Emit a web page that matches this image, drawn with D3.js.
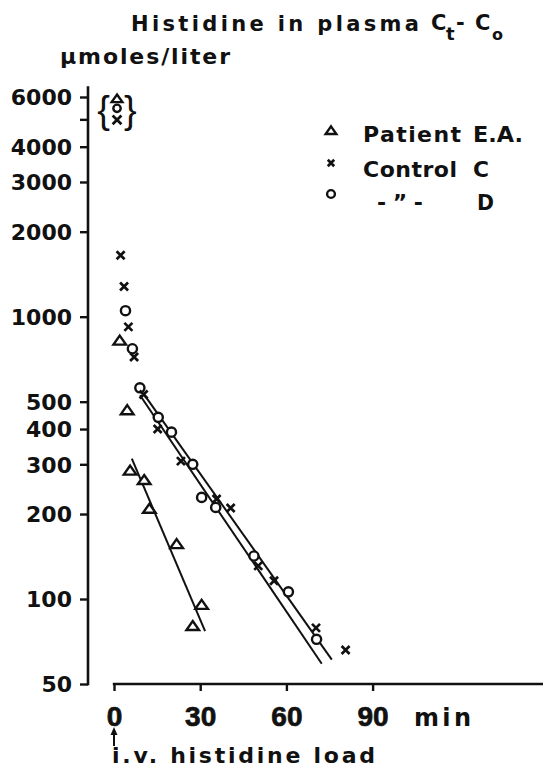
<!DOCTYPE html>
<html>
<head>
<meta charset="utf-8">
<script src="https://cdn.jsdelivr.net/npm/d3@7"></script>
<style>
  html, body { margin: 0; padding: 0; background: #fff; }
  svg { display: block; }
  text { font-family: "DejaVu Sans", sans-serif; font-weight: bold; fill: #111; }
</style>
</head>
<body>
<svg id="chart" width="543" height="768"></svg>
<script>
// ---- data ----
const yTickValues = [50, 100, 200, 300, 400, 500, 1000, 2000, 3000, 4000, 5000, 6000];
const yTickLabels = ["50", "100", "200", "300", "400", "500", "1000", "2000", "3000", "4000", "", "6000"];
const xTickValues = [0, 30, 60, 90];
const xTickLabels = ["0", "30", "60", "90"];

// Patient E.A. (triangles)
const patientT = [2, 4.6, 5.6, 10.5, 12.3, 21.8, 27.4, 30.5];
const patientV = [820, 465, 284, 263, 208, 156, 80, 95];
// Control C (crosses)
const controlCT = [2.3, 3.5, 5, 7, 10.3, 15.2, 23.3, 35.7, 40.6, 50.2, 55.7, 70.3, 80.6];
const controlCV = [1650, 1280, 920, 720, 530, 400, 308, 226, 210, 131, 116, 79, 66];
// Control D (circles)
const controlDT = [4, 6.4, 9, 15.4, 20, 27.4, 30.5, 35.4, 48.7, 60.7, 70.5];
const controlDV = [1050, 770, 560, 440, 390, 300, 229, 211, 142, 106, 72];

// bracketed off-scale initial values {triangle, circle, cross}
const bracketT = 0.7;
const bracketSeries = ["patient", "D", "C"];
const bracketV = [5900, 5470, 4980];

// fitted regression lines [t0, v0, t1, v1]
const fitPatient = [6.2, 314, 31.7, 77];
const fitC = [9.05, 527, 72.3, 59];
const fitD = [10.2, 535, 75.8, 61];

const legendNames = ["Patient", "Control", "- \u201D -"];
const legendCodes = ["E.A.", "C", "D"];
const legendSeries = ["patient", "C", "D"];

// ---- scales ----
const svg = d3.select("#chart");
const x = d3.scaleLinear().domain([0, 90]).range([114, 372.6]);
const y = d3.scaleLog().domain([50, 6000]).range([684, 97]);
const ink = "#111";

// ---- markers ----
function drawMarker(g, kind, cx, cy, s) {
  s = s || 1;
  if (kind === "patient") {
    const w = 6.3 * s, h = 9 * s;
    g.append("path")
      .attr("d", `M${cx},${cy - h * 0.6}L${cx + w},${cy + h * 0.4}L${cx - w},${cy + h * 0.4}Z`)
      .attr("fill", "#fff").attr("stroke", ink).attr("stroke-width", 2.4).attr("stroke-linejoin", "miter");
  } else if (kind === "D") {
    g.append("circle").attr("cx", cx).attr("cy", cy).attr("r", 4.6 * s)
      .attr("fill", "#fff").attr("stroke", ink).attr("stroke-width", 2.4);
  } else {
    const r = 4 * s;
    g.append("path")
      .attr("d", `M${cx - r},${cy - r}L${cx + r},${cy + r}M${cx + r},${cy - r}L${cx - r},${cy + r}`)
      .attr("stroke", ink).attr("stroke-width", 2.7).attr("fill", "none");
  }
}

// ---- y axis ----
const yAxis = d3.axisLeft(y).tickValues(yTickValues).tickSize(8).tickSizeOuter(0).tickFormat((d, i) => yTickLabels[i]);
const gy = svg.append("g").attr("transform", "translate(88,0)").call(yAxis);
gy.select(".domain").remove();
gy.selectAll(".tick line").attr("stroke", ink).attr("stroke-width", 2.4);
gy.selectAll(".tick text")
  .attr("x", -16).attr("dy", "0.36em")
  .style("font-size", "22px").style("font-family", "DejaVu Sans, sans-serif")
  .style("font-weight", "bold").attr("fill", ink);
svg.append("line").attr("x1", 88).attr("x2", 88).attr("y1", y(50) + 1.2).attr("y2", y(6550))
  .attr("stroke", ink).attr("stroke-width", 2.6);

// ---- x axis ----
const xAxis = d3.axisBottom(x).tickValues(xTickValues).tickSize(7).tickSizeOuter(0).tickFormat((d, i) => xTickLabels[i]);
const gx = svg.append("g").attr("transform", "translate(0,684)").call(xAxis);
gx.select(".domain").remove();
gx.selectAll(".tick line").attr("stroke", ink).attr("stroke-width", 2.4);
gx.selectAll(".tick text")
  .attr("y", 42).attr("dy", 0)
  .style("font-size", "28px").style("font-family", "Liberation Sans, Arial, sans-serif")
  .style("font-weight", "bold").attr("fill", ink).attr("stroke", ink).attr("stroke-width", 0.7);
svg.append("line").attr("x1", x(0) - 1.2).attr("x2", 543).attr("y1", 684).attr("y2", 684)
  .attr("stroke", ink).attr("stroke-width", 2.6);
svg.append("text").attr("x", 414).attr("y", 726).attr("textLength", 57).attr("lengthAdjust", "spacing")
  .style("font-size", "24px").text("min");

// arrow and load label
svg.append("line").attr("x1", x(0)).attr("x2", x(0)).attr("y1", 746).attr("y2", 733)
  .attr("stroke", ink).attr("stroke-width", 2);
svg.append("path").attr("d", `M${x(0)},727L${x(0) + 3.5},735L${x(0) - 3.5},735Z`).attr("fill", ink);
svg.append("text").attr("x", 112).attr("y", 763).attr("textLength", 263).attr("lengthAdjust", "spacing")
  .style("font-size", "22px").text("i.v. histidine load");

// ---- titles ----
svg.append("text").attr("x", 131).attr("y", 30.5).attr("textLength", 288).attr("lengthAdjust", "spacing")
  .style("font-size", "21px").text("Histidine in plasma");
svg.append("text").attr("x", 431).attr("y", 30).style("font-size", "21px").text("C");
svg.append("text").attr("x", 446).attr("y", 40).style("font-size", "18px").text("t");
svg.append("text").attr("x", 456).attr("y", 30).style("font-size", "21px").text("-");
svg.append("text").attr("x", 475).attr("y", 30).style("font-size", "21px").text("C");
svg.append("text").attr("x", 492).attr("y", 40).style("font-size", "16px").text("o");
svg.append("text").attr("x", 60).attr("y", 64).attr("textLength", 170).attr("lengthAdjust", "spacing")
  .style("font-size", "22px").text("\u03BCmoles/liter");

// ---- fitted lines ----
const lineGen = d3.line().x(d => x(d[0])).y(d => y(d[1]));
[fitPatient, fitC, fitD].forEach(f => {
  svg.append("path").attr("d", lineGen([[f[0], f[1]], [f[2], f[3]]]))
    .attr("stroke", ink).attr("stroke-width", 2).attr("fill", "none");
});

// ---- points ----
const gp = svg.append("g");
patientT.forEach((t, i) => drawMarker(gp, "patient", x(t), y(patientV[i])));
controlDT.forEach((t, i) => drawMarker(gp, "D", x(t), y(controlDV[i])));
controlCT.forEach((t, i) => drawMarker(gp, "C", x(t), y(controlCV[i])));

// bracketed off-scale values
const bs = [0.85, 0.8, 1.1];
bracketSeries.forEach((s, i) => drawMarker(gp, s, x(bracketT) + 1, y(bracketV[i]), bs[i]));
svg.append("text").attr("x", x(bracketT) - 6).attr("y", y(5400)).attr("dy", "0.35em").attr("text-anchor", "end")
  .style("font-family", "Liberation Sans, Arial, sans-serif")
  .style("font-size", "38px").style("font-weight", "normal").text("{");
svg.append("text").attr("x", x(bracketT) + 8).attr("y", y(5400)).attr("dy", "0.35em").attr("text-anchor", "start")
  .style("font-family", "Liberation Sans, Arial, sans-serif")
  .style("font-size", "38px").style("font-weight", "normal").text("}");

// ---- legend ----
const legY = [131, 163, 194];
const legTextY = [142, 177, 210];
const nameLen = [98, 94, 46];
const nameX = [363, 363, 377];
const codeX = [473, 473, 477];
const codeLen = [50, 16, 17];
legendSeries.forEach((s, i) => {
  drawMarker(svg, s, 331, legY[i], s === "C" ? 0.8 : 0.85);
  svg.append("text").attr("x", nameX[i]).attr("y", legTextY[i]).attr("textLength", nameLen[i]).attr("lengthAdjust", "spacing")
    .style("font-size", "22px").text(legendNames[i]);
  svg.append("text").attr("x", codeX[i]).attr("y", legTextY[i]).attr("textLength", codeLen[i]).attr("lengthAdjust", "spacingAndGlyphs")
    .style("font-size", "22px").text(legendCodes[i]);
});
</script>
</body>
</html>
